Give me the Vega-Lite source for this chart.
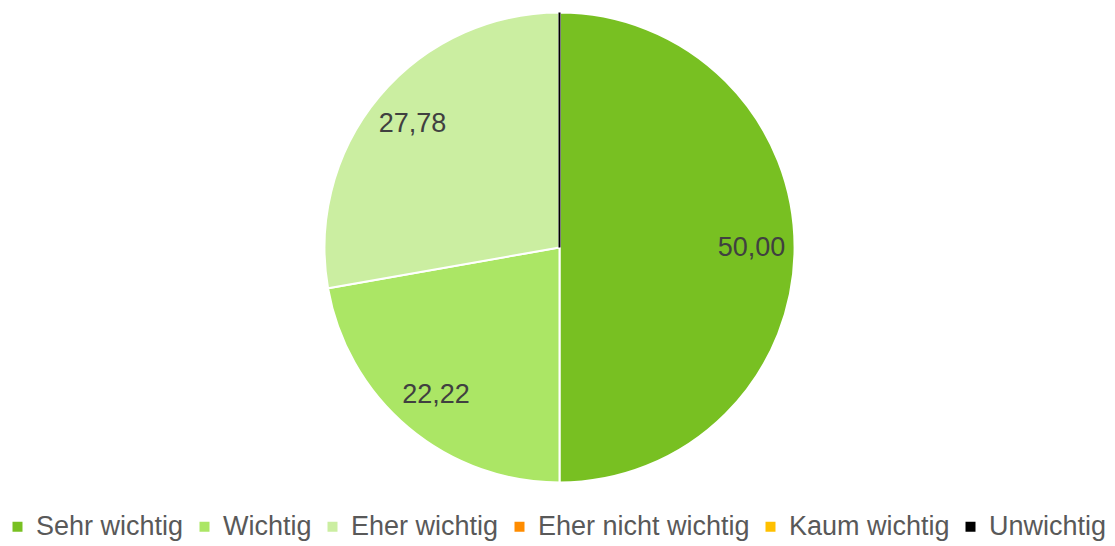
{
  "$schema": "https://vega.github.io/schema/vega-lite/v6.json",
  "width": 1115,
  "height": 546,
  "padding": {"top": 0, "left": 4, "right": 0, "bottom": 6},
  "autosize": {"type": "fit", "contains": "padding"},
  "background": "white",
  "config": {
    "view": {"stroke": null},
    "font": "Liberation Sans",
    "locale": {"number": {"decimal": ",", "thousands": ".", "grouping": [3], "currency": ["", " €"]}}
  },
  "data": {
    "values": [
      {"category": "Sehr wichtig", "order": 1, "value": 50.00},
      {"category": "Wichtig", "order": 2, "value": 22.22},
      {"category": "Eher wichtig", "order": 3, "value": 27.78},
      {"category": "Eher nicht wichtig", "order": 4, "value": 0},
      {"category": "Kaum wichtig", "order": 5, "value": 0},
      {"category": "Unwichtig", "order": 6, "value": 0}
    ]
  },
  "encoding": {
    "theta": {"field": "value", "type": "quantitative", "stack": true},
    "order": {"field": "order", "type": "quantitative"}
  },
  "layer": [
    {
      "mark": {"type": "arc", "outerRadius": 235, "strokeWidth": 2},
      "encoding": {
        "color": {
          "field": "category",
          "type": "nominal",
          "sort": ["Sehr wichtig", "Wichtig", "Eher wichtig", "Eher nicht wichtig", "Kaum wichtig", "Unwichtig"],
          "scale": {
            "domain": ["Sehr wichtig", "Wichtig", "Eher wichtig", "Eher nicht wichtig", "Kaum wichtig", "Unwichtig"],
            "range": ["#78C022", "#ABE665", "#CBEEA1", "#FF8C00", "#FFC000", "#000000"]
          },
          "legend": {
            "title": null,
            "orient": "bottom",
            "direction": "horizontal",
            "offset": 18,
            "symbolType": "square",
            "symbolSize": 100,
            "symbolStrokeWidth": 0,
            "labelFontSize": 27,
            "labelColor": "#595959",
            "labelFont": "Liberation Sans",
            "columnPadding": 7,
            "symbolOffset": 0,
            "labelOffset": 5,
            "labelLimit": 400
          }
        },
        "stroke": {
          "condition": {"test": "datum.category === 'Unwichtig'", "value": "#000000"},
          "value": "#FFFFFF"
        }
      }
    },
    {
      "mark": {"type": "text", "radius": 192, "fontSize": 27, "color": "#404040", "font": "Liberation Sans"},
      "encoding": {
        "text": {"field": "value", "type": "quantitative", "format": ".2f"},
        "opacity": {"condition": {"test": "datum.value > 0", "value": 1}, "value": 0}
      }
    }
  ]
}
